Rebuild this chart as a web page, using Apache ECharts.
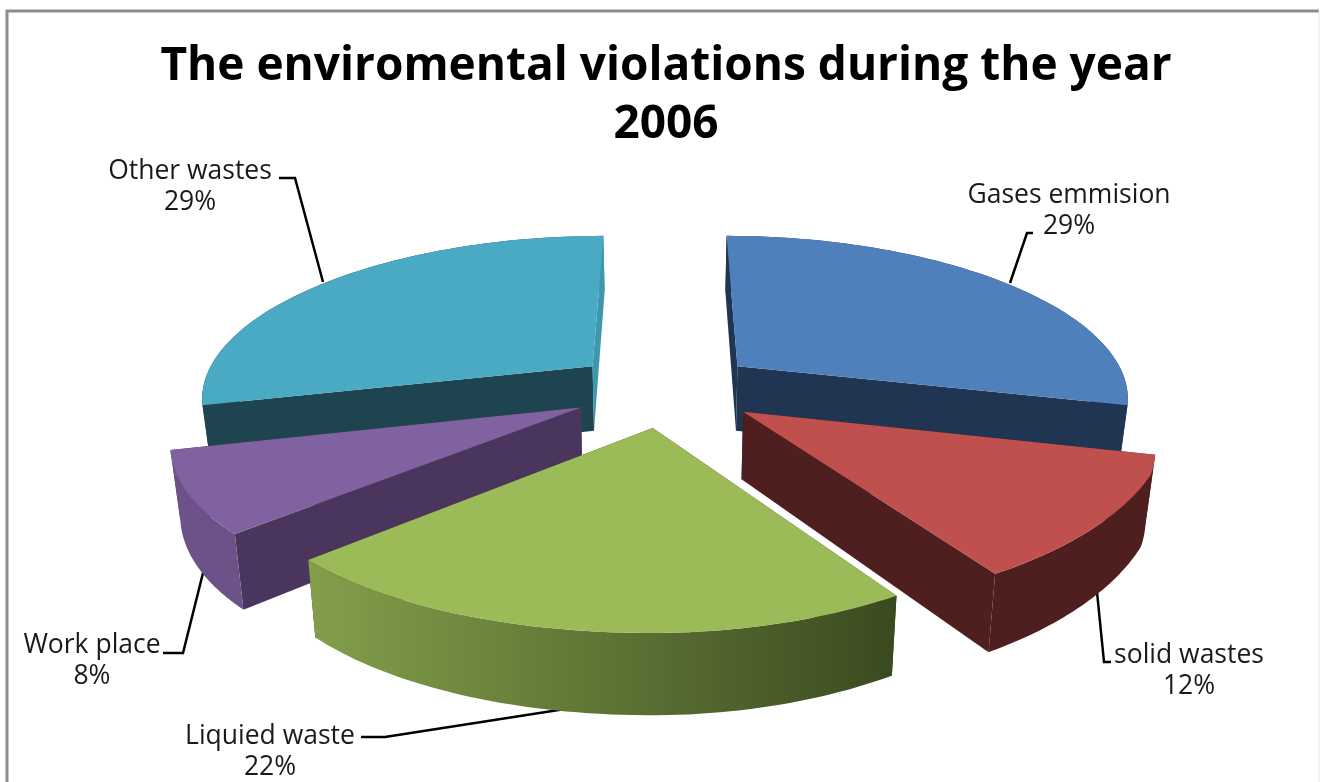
<!DOCTYPE html>
<html>
<head>
<meta charset="utf-8">
<style>html,body{margin:0;padding:0;background:#fff}#c{width:1324px;height:782px}</style>
<script src="https://cdn.jsdelivr.net/npm/echarts@6/dist/echarts.min.js"></script>
</head>
<body>
<div id="c"></div>
<script>
// Data
const categories = ['Gases emmision', 'solid wastes', 'Liquied waste', 'Work place', 'Other wastes'];
const values = [29, 12, 22, 8, 29];
const titleText = 'The enviromental violations during the year\n2006';

// Styles per slice
const topColors = ['#4f80bb', '#bf504d', '#9bbb59', '#8062a0', '#4aa9c3'];
const startFaceColors = ['#1f3551', '#4f1e1e', '#4f1e1e', '#4a365d', '#1e4450']; // radial face at slice start angle
const endFaceColors = ['#1f3551', '#4f1e1e', '#4f1e1e', '#4a365d', '#3d97ad'];
const wallStops = [
  [[0, '#1f3551'], [1, '#1f3551']],
  [[0, '#4f1e1e'], [1, '#4f1e1e']],
  [[0, '#839f4b'], [1, '#3a4a1f']],
  [[0, '#6c5289'], [1, '#6c5289']],
  [[0, '#1e4450'], [0.9, '#1e4450'], [0.9, '#3d97ad'], [1, '#3d97ad']]
];
const paintOrder = [1, 4, 5, 3, 2];

// Layout of labels: text anchor and leader path
const labelAnchors = [[1069, 196], [1189, 656], [270, 737], [92, 646], [190, 172]];
const leaderPaths = [
  [[1033, 233], [1027, 233], [1010, 283]],
  [[1111, 662], [1104, 662], [1097, 592]],
  [[361, 737], [385, 737], [578, 707]],
  [[163, 653], [183, 653], [205, 565]],
  [[279, 178], [295, 178], [323, 282]]
];

// Projection of the exploded 3D pie
const cx = 665, cy = 389, kx = 392, ky = 158, perspX = 0.18, perspY = 0.16,
      explodeX = 0.24, explodeY = 0.24, depth = 66, taper = 0.02, frontSkew = 50;
function project(u, v, bottom) {
  let x = cx + kx * u / (1 - perspX * v);
  if (u > 0 && v > 0.5) x -= frontSkew * u * (v - 0.5);
  const wy = 1 - perspY * v;
  let y = cy + ky * v / wy;
  if (bottom) { x = cx + (x - cx) * (1 - taper); y += depth / wy; }
  return [x, y];
}
const total = values.reduce((a, b) => a + b, 0);

function renderSlice(params, api) {
  const i = params.dataIndex;
  const value = api.value(0);
  let before = 0;
  for (let j = 0; j < i; j++) before += values[j];
  const a0 = before / total * Math.PI * 2;
  const a1 = (before + value) / total * Math.PI * 2;
  const mid = (a0 + a1) / 2;
  const ou = Math.sin(mid) * explodeX, ov = -Math.cos(mid) * explodeY;
  const steps = 60;
  const top = [], bot = [];
  for (let s = 0; s <= steps; s++) {
    const a = a0 + (a1 - a0) * s / steps;
    const u = ou + Math.sin(a), v = ov - Math.cos(a);
    top.push(project(u, v, false));
    bot.push(project(u, v, true));
  }
  const apexT = project(ou, ov, false), apexB = project(ou, ov, true);
  const z = paintOrder[i] * 10;
  const wallFill = new echarts.graphic.LinearGradient(0, 0, 1, 0,
    wallStops[i].map(s => ({ offset: s[0], color: s[1] })));
  return { type: 'group', children: [
    { type: 'polygon', z2: z, shape: { points: [apexT, top[0], bot[0], apexB] },
      style: { fill: startFaceColors[i] } },
    { type: 'polygon', z2: z + 1, shape: { points: [apexT, top[steps], bot[steps], apexB] },
      style: { fill: endFaceColors[i] } },
    { type: 'polygon', z2: z + 2, shape: { points: top.concat(bot.slice().reverse()) },
      style: { fill: wallFill } },
    { type: 'polygon', z2: z + 3, shape: { points: [apexT].concat(top) },
      style: { fill: topColors[i] } },
    { type: 'polyline', z2: 1, shape: { points: leaderPaths[i] },
      style: { stroke: '#000', lineWidth: 2.5, fill: null } },
    { type: 'text', z2: 100, style: {
        x: labelAnchors[i][0], y: labelAnchors[i][1] + 15,
        text: categories[i] + '\n' + value + '%',
        fill: '#1a1a1a', font: '26.5px "Open Sans"', lineHeight: 31,
        align: 'center', verticalAlign: 'middle' } }
  ] };
}

const chart = echarts.init(document.getElementById('c'), null, { renderer: 'canvas' });
chart.setOption({
  animation: false,
  backgroundColor: '#fff',
  title: {
    text: titleText, left: 661, top: 33, textAlign: 'center',
    textStyle: { fontFamily: 'Open Sans', fontWeight: 'bold', fontSize: 46, lineHeight: 58, color: '#000' }
  },
  graphic: [
    { type: 'polyline', z: -1, shape: { points: [[7, 782], [7, 11], [1319, 11]] },
      style: { stroke: '#8c8c8c', lineWidth: 3, fill: null } },
    { type: 'line', z: -1, shape: { x1: 1319, y1: 11, x2: 1319, y2: 782 },
      style: { stroke: '#e6e6e6', lineWidth: 1 } }
  ],
  series: [{
    type: 'custom',
    coordinateSystem: 'none',
    silent: true,
    renderItem: renderSlice,
    data: values.map((v, i) => ({ name: categories[i], value: [v] }))
  }]
});
</script>
</body>
</html>
